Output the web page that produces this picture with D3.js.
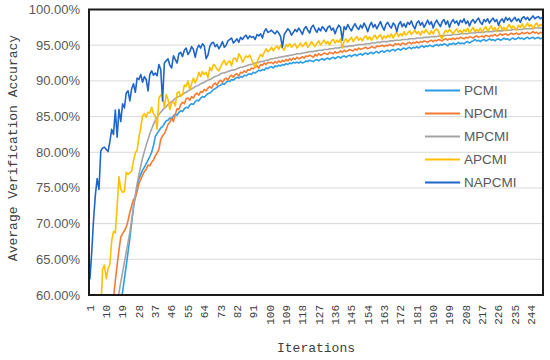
<!DOCTYPE html>
<html>
<head>
<meta charset="utf-8">
<script src="https://cdn.jsdelivr.net/npm/d3@7"></script>
<style>
  body { margin: 0; background: #fff; }
  svg { display: block; }
</style>
</head>
<body>
<svg id="chart"></svg>
<script>
const seriesNames = ["PCMI", "NPCMI", "MPCMI", "APCMI", "NAPCMI"];
const seriesColors = ["#2b9de4", "#f57a32", "#a5a5a5", "#ffc000", "#1f66c9"];
const yTicks = [60, 65, 70, 75, 80, 85, 90, 95, 100];

const pcmi = [
  33.0, 35.0, 37.0, 39.0, 41.0, 43.0, 45.0, 46.8, 48.6, 50.2,
  51.8, 53.2, 54.6, 55.9, 57.0, 58.0, 58.9, 59.6, 60.4, 62.3,
  64.1, 66.0, 68.0, 70.1, 72.3, 73.8, 75.0, 76.3, 76.9, 77.5,
  77.9, 78.4, 78.9, 79.4, 80.0, 80.9, 82.2, 82.6, 83.0, 83.4,
  83.6, 84.0, 84.4, 84.5, 84.8, 84.7, 85.1, 85.3, 85.2, 85.6,
  85.8, 85.7, 86.1, 86.3, 86.2, 86.6, 86.8, 86.7, 87.1, 87.3,
  87.2, 87.6, 87.8, 87.7, 88.0, 88.2, 88.3, 88.5, 88.8, 88.9,
  89.1, 89.3, 89.4, 89.6, 89.5, 89.8, 90.0, 89.9, 90.2, 90.1,
  90.3, 90.5, 90.4, 90.6, 90.5, 90.8, 90.7, 90.9, 91.0, 90.9,
  91.2, 91.1, 91.3, 91.5, 91.4, 91.6, 91.5, 91.8, 91.7, 91.9,
  92.0, 91.8, 92.1, 92.0, 92.2, 92.1, 92.3, 92.2, 92.4, 92.3,
  92.5, 92.4, 92.6, 92.5, 92.6, 92.5, 92.7, 92.5, 92.6, 92.8,
  92.7, 92.9, 92.8, 92.7, 92.9, 93.0, 92.8, 93.0, 93.1, 92.9,
  93.1, 93.2, 93.0, 93.2, 93.3, 93.1, 93.3, 93.4, 93.2, 93.4,
  93.5, 93.3, 93.5, 93.6, 93.4, 93.6, 93.7, 93.5, 93.7, 93.8,
  93.6, 93.8, 93.9, 93.7, 93.9, 94.0, 93.8, 94.0, 94.1, 93.9,
  94.1, 94.2, 94.0, 94.2, 94.3, 94.1, 94.3, 94.4, 94.2, 94.4,
  94.5, 94.3, 94.5, 94.6, 94.4, 94.6, 94.7, 94.5, 94.7, 94.6,
  94.8, 94.6, 94.8, 94.9, 94.7, 94.9, 94.8, 95.0, 94.9, 94.8,
  95.0, 95.1, 94.9, 95.1, 95.0, 95.2, 95.1, 94.9, 95.2, 95.1,
  95.3, 95.1, 95.2, 95.4, 95.2, 95.3, 95.2, 95.4, 95.5, 95.3,
  95.5, 95.6, 95.8, 95.6, 95.7, 95.5, 95.7, 95.8, 95.6, 95.7,
  95.9, 95.7, 95.8, 95.6, 95.8, 95.9, 95.7, 95.8, 96.0, 95.8,
  95.9, 95.7, 95.9, 96.0, 95.8, 95.9, 96.1, 95.9, 96.0, 95.8,
  96.0, 96.1, 95.9, 96.0, 96.1, 95.9, 96.0, 96.1, 95.9, 96.0
];

const npcmi = [
  38.0, 40.0, 42.0, 44.0, 46.0, 47.5, 49.0, 50.5, 52.0, 53.5,
  55.0, 56.5, 58.0, 59.6, 62.0, 64.2, 66.3, 68.1, 68.6, 69.0,
  69.5, 70.4, 71.6, 72.5, 73.4, 73.6, 74.5, 75.6, 76.2, 76.8,
  77.3, 77.6, 78.2, 78.1, 78.6, 78.9, 79.5, 79.9, 80.4, 81.8,
  82.3, 82.6, 83.2, 83.9, 84.2, 84.8, 84.3, 85.3, 86.1, 86.0,
  86.7, 87.0, 86.8, 87.5, 87.6, 87.3, 87.8, 87.6, 88.1, 88.3,
  88.0, 88.5, 88.4, 88.8, 88.6, 89.0, 89.2, 89.0, 89.5, 89.7,
  89.4, 89.9, 90.1, 89.8, 90.2, 90.4, 90.1, 90.6, 90.8, 90.5,
  90.9, 91.0, 90.7, 91.2, 91.1, 91.4, 91.2, 91.6, 91.5, 91.8,
  91.7, 91.9, 92.1, 91.8, 92.3, 92.2, 92.5, 92.3, 92.6, 92.5,
  92.6, 92.4, 92.7, 92.5, 92.8, 92.6, 92.9, 92.7, 93.0, 92.8,
  93.1, 92.9, 93.2, 93.0, 93.3, 93.1, 93.2, 93.4, 93.2, 93.5,
  93.4, 93.6, 93.5, 93.3, 93.7, 93.5, 93.8, 93.6, 93.7, 93.9,
  93.8, 93.7, 94.0, 93.9, 93.8, 94.1, 93.9, 94.0, 94.2, 94.0,
  94.3, 94.1, 94.2, 94.4, 94.3, 94.2, 94.5, 94.3, 94.6, 94.4,
  94.5, 94.6, 94.7, 94.5, 94.6, 94.8, 94.7, 94.6, 94.9, 94.8,
  94.9, 95.0, 94.8, 95.0, 94.9, 95.1, 95.0, 94.9, 95.2, 95.1,
  95.2, 95.0, 95.3, 95.2, 95.1, 95.3, 95.4, 95.2, 95.4, 95.3,
  95.5, 95.3, 95.5, 95.4, 95.6, 95.5, 95.4, 95.6, 95.7, 95.5,
  95.7, 95.6, 95.8, 95.7, 95.6, 95.8, 95.9, 95.7, 95.9, 95.8,
  96.0, 95.8, 96.0, 95.9, 96.1, 96.0, 95.9, 96.1, 96.0, 96.2,
  96.1, 96.0, 96.2, 96.3, 96.1, 96.2, 96.3, 96.1, 96.4, 96.3,
  96.2, 96.4, 96.3, 96.5, 96.3, 96.4, 96.6, 96.4, 96.5, 96.6,
  96.4, 96.5, 96.7, 96.5, 96.6, 96.7, 96.5, 96.6, 96.8, 96.6,
  96.7, 96.8, 96.6, 96.7, 96.9, 96.7, 96.8, 96.6, 96.8, 96.7
];

const mpcmi = [
  37.9, 39.3, 40.7, 42.1, 43.5, 44.9, 46.3, 47.7, 49.1, 50.5,
  51.9, 53.3, 54.7, 56.1, 57.5, 58.9, 60.3, 61.8, 63.2, 64.6,
  66.0, 67.4, 68.8, 70.5, 72.3, 74.0, 75.6, 76.9, 78.1, 79.2,
  80.1, 81.0, 81.8, 82.6, 83.3, 83.9, 84.5, 84.9, 85.3, 85.6,
  85.9, 86.2, 86.4, 86.7, 86.9, 87.1, 87.3, 87.5, 87.7, 87.8,
  88.0, 88.1, 88.3, 88.4, 88.6, 88.7, 88.9, 89.0, 89.2, 89.3,
  89.4, 89.6, 89.7, 89.8, 90.0, 90.1, 90.2, 90.3, 90.5, 90.6,
  90.7, 90.8, 91.0, 91.1, 91.1, 91.2, 91.3, 91.4, 91.5, 91.5,
  91.6, 91.7, 91.8, 91.9, 91.9, 92.0, 92.1, 92.2, 92.3, 92.3,
  92.4, 92.5, 92.5, 92.6, 92.7, 92.7, 92.8, 92.9, 92.9, 93.0,
  93.1, 93.1, 93.2, 93.2, 93.3, 93.3, 93.4, 93.4, 93.5, 93.5,
  93.6, 93.6, 93.7, 93.7, 93.8, 93.8, 93.8, 93.9, 93.9, 94.0,
  94.0, 94.1, 94.1, 94.1, 94.2, 94.2, 94.3, 94.3, 94.3, 94.4,
  94.4, 94.4, 94.5, 94.5, 94.5, 94.6, 94.6, 94.6, 94.7, 94.7,
  94.8, 94.8, 94.8, 94.9, 94.9, 94.9, 95.0, 95.0, 95.1, 95.1,
  95.1, 95.1, 95.2, 95.2, 95.2, 95.3, 95.3, 95.3, 95.4, 95.4,
  95.4, 95.5, 95.5, 95.5, 95.5, 95.6, 95.6, 95.6, 95.7, 95.7,
  95.7, 95.7, 95.8, 95.8, 95.8, 95.8, 95.9, 95.9, 95.9, 95.9,
  96.0, 96.0, 96.0, 96.0, 96.1, 96.1, 96.1, 96.1, 96.2, 96.2,
  96.2, 96.2, 96.3, 96.3, 96.3, 96.3, 96.4, 96.4, 96.4, 96.4,
  96.5, 96.5, 96.5, 96.5, 96.6, 96.6, 96.6, 96.6, 96.6, 96.7,
  96.7, 96.7, 96.7, 96.8, 96.8, 96.8, 96.8, 96.8, 96.9, 96.9,
  96.9, 96.9, 96.9, 97.0, 97.0, 97.0, 97.0, 97.0, 97.1, 97.1,
  97.1, 97.1, 97.1, 97.2, 97.2, 97.2, 97.2, 97.2, 97.2, 97.3,
  97.3, 97.3, 97.3, 97.3, 97.3, 97.4, 97.4, 97.4, 97.4, 97.4
];

const apcmi = [
  48.5, 50.8, 52.6, 54.1, 55.4, 56.6, 58.0, 63.6, 64.2, 62.3,
  63.7, 64.3, 67.6, 68.9, 68.7, 72.4, 76.6, 74.8, 74.4, 74.5,
  77.2, 76.9, 77.1, 77.4, 78.8, 79.9, 80.3, 82.1, 83.5, 85.1,
  85.4, 84.9, 85.6, 85.5, 86.3, 85.4, 85.1, 83.2, 87.6, 88.0,
  87.9, 86.3, 88.1, 87.4, 86.0, 86.9, 87.1, 86.5, 88.3, 88.5,
  87.8, 88.1, 89.4, 89.2, 90.0, 88.8, 89.6, 90.4, 89.7, 90.3,
  91.2, 90.6, 91.3, 90.9, 91.2, 90.4, 91.9, 91.4, 92.3, 92.1,
  91.6, 91.4, 92.0, 92.5, 92.9, 92.2, 92.6, 92.8, 92.1, 93.1,
  93.2, 92.7, 93.8, 93.4, 92.6, 93.1, 93.5, 93.3, 93.6, 93.0,
  92.4, 91.9, 92.6, 93.2, 93.7, 93.4, 94.0, 94.5, 94.1, 94.3,
  94.7, 94.2, 94.6, 94.9, 94.4, 95.0, 94.6, 94.3, 95.1, 94.8,
  95.2, 94.7, 95.0, 95.2, 94.6, 94.9, 95.3, 94.8, 95.1, 95.4,
  94.7, 95.0, 95.5, 95.1, 94.8, 95.3, 95.6, 95.0, 95.4, 95.7,
  95.2, 95.5, 95.0, 95.6, 95.8, 95.3, 95.7, 95.4, 95.9, 94.6,
  95.6, 95.9, 95.4, 95.8, 96.1, 95.5, 95.9, 96.2, 95.7, 96.0,
  95.6, 96.1, 96.3, 95.8, 96.2, 95.7, 96.1, 96.4, 95.9, 96.2,
  96.5, 95.8, 96.3, 96.0, 96.4, 96.1, 96.6, 96.0, 96.5, 96.8,
  96.2, 96.6, 96.3, 96.9, 96.4, 96.7, 97.0, 96.5, 96.8, 97.1,
  96.6, 96.9, 96.4, 97.0, 96.7, 97.2, 96.8, 96.5, 97.0, 96.6,
  97.1, 97.3, 96.9, 96.2, 95.9, 96.7, 97.1, 96.8, 97.2, 96.9,
  96.6, 97.0, 97.3, 96.8, 97.1, 96.7, 97.2, 96.9, 97.4, 96.8,
  97.1, 97.5, 96.9, 97.2, 97.0, 97.4, 96.8, 97.3, 97.6, 97.0,
  97.3, 97.7, 97.1, 97.5, 96.9, 97.4, 97.8, 97.2, 97.5, 97.0,
  97.6, 97.9, 97.3, 97.7, 97.4, 97.1, 97.8, 97.5, 98.0, 97.4,
  97.7, 98.1, 97.6, 97.9, 97.3, 97.8, 98.1, 97.6, 97.9, 97.7
];

const napcmi = [
  62.2, 66.0, 70.5, 74.0, 76.3, 74.8, 80.2, 80.6, 80.7, 80.4,
  80.1, 81.5, 83.2, 82.5, 85.9, 82.1, 86.0, 84.3, 86.8, 86.2,
  88.3, 88.6, 87.2, 88.9, 89.6, 88.4, 90.4, 90.2, 90.9, 89.8,
  90.6, 90.2, 88.6, 90.9, 91.4, 90.8, 91.1, 90.7, 92.3, 91.6,
  87.2, 92.5, 92.8, 93.1, 92.2, 91.8, 93.5, 93.0, 92.5, 93.8,
  94.0, 93.4, 94.3, 94.6, 93.7, 94.1, 94.8, 94.4, 93.3, 94.5,
  95.0, 94.6, 95.2, 94.9, 93.1, 93.6, 94.8, 95.3, 95.4, 94.8,
  95.1, 94.5, 94.9, 95.5, 94.7, 95.0, 95.6, 95.8, 96.0, 95.3,
  95.6, 95.9, 95.4, 96.1, 95.8, 96.2, 96.4, 95.9, 96.3, 96.1,
  96.2, 95.8, 96.5, 96.3, 96.6, 96.0, 96.9, 97.3, 96.8, 96.9,
  97.1, 96.8, 96.6, 97.0, 96.7, 96.2, 94.7, 96.5, 96.9, 97.3,
  97.0, 96.4, 96.8, 97.2, 96.9, 97.4, 97.0, 96.5, 97.3, 97.6,
  97.1, 96.7, 97.5, 97.8, 97.2, 96.8, 97.4, 97.0, 97.6, 97.3,
  96.9, 97.5, 97.7, 97.1, 97.4, 96.6, 97.3, 97.8, 97.5, 95.7,
  97.6, 97.2, 97.9, 97.4, 97.0, 97.6, 98.0, 97.5, 97.2, 97.8,
  97.4, 98.1, 97.6, 96.9, 97.7, 98.2, 97.5, 97.9, 97.3, 97.8,
  98.3, 97.6, 97.1, 97.9, 98.2, 97.7, 97.4, 98.1, 97.8, 96.9,
  97.9, 98.3, 97.6, 98.0, 97.5, 98.2, 97.9, 98.4, 97.7, 97.3,
  98.1, 98.4, 97.8, 98.2, 97.5, 98.0, 98.5, 97.9, 98.3, 97.4,
  98.1, 98.5, 98.0, 97.6, 98.3, 98.6, 97.9, 98.4, 97.5, 98.2,
  98.6, 98.1, 98.4, 97.8, 98.5, 98.2, 98.7, 98.0, 98.4, 97.7,
  98.3, 98.6, 98.1, 98.5, 98.8, 98.2, 97.9, 98.6, 98.3, 98.7,
  98.1, 98.5, 98.8, 98.3, 98.6, 97.8, 98.4, 98.7, 98.2, 98.9,
  98.5, 98.8, 98.3, 98.6, 98.9, 98.4, 98.7, 98.2, 98.8, 99.0,
  98.6, 98.9, 98.5, 98.8, 99.1, 98.7, 98.9, 99.0, 98.7, 98.9
];

const allSeries = [pcmi, npcmi, mpcmi, apcmi, napcmi];
const iterations = d3.range(1, pcmi.length + 1);
const xTickLabels = iterations.filter(i => (i - 1) % 9 === 0);

const width = 550,
      height = 360,
      margin = {top: 9.5, right: 7, bottom: 65, left: 89},
      svg = d3.select("#chart")
              .attr("width", width)
              .attr("height", height);

const x = d3.scaleBand()
    .domain(iterations)
    .range([margin.left, width - margin.right]);

const y = d3.scaleLinear()
    .domain([60, 100])
    .range([height - margin.bottom, margin.top]);

const cx = (i) => x(i) + x.bandwidth() / 2;

// grid
svg.append("g")
    .selectAll("line")
    .data(yTicks.slice(1, -1))
    .enter().append("line")
      .attr("x1", margin.left)
      .attr("x2", width - margin.right)
      .attr("y1", (d) => y(d))
      .attr("y2", (d) => y(d))
      .attr("stroke", "#d9d9d9")
      .attr("stroke-width", 1);

svg.append("clipPath")
    .attr("id", "plotClip")
  .append("rect")
    .attr("x", margin.left)
    .attr("y", margin.top)
    .attr("width", width - margin.left - margin.right)
    .attr("height", height - margin.top - margin.bottom);

const line = d3.line()
    .x((d, i) => cx(iterations[i]))
    .y((d) => y(d));

svg.append("g")
    .attr("clip-path", "url(#plotClip)")
    .selectAll("path")
    .data(allSeries)
    .enter().append("path")
      .attr("d", line)
      .attr("fill", "none")
      .attr("stroke", (d, i) => seriesColors[i])
      .attr("stroke-width", 1.6)
      .attr("stroke-linejoin", "round");

// frame
svg.append("rect")
    .attr("x", margin.left)
    .attr("y", margin.top)
    .attr("width", width - margin.left - margin.right)
    .attr("height", height - margin.top - margin.bottom)
    .attr("fill", "none")
    .attr("stroke", "#1a1a1a")
    .attr("stroke-width", 2);

// y tick labels
svg.append("g")
    .selectAll("text")
    .data(yTicks)
    .enter().append("text")
      .attr("x", 80)
      .attr("y", (d) => y(d))
      .attr("dy", "0.35em")
      .attr("text-anchor", "end")
      .style("font-family", "'Liberation Sans', Arial, sans-serif")
      .style("font-size", "13px")
      .attr("fill", "#595959")
      .text((d) => d3.format(".2f")(d) + "%");

// x tick labels
svg.append("g")
    .selectAll("text")
    .data(xTickLabels)
    .enter().append("text")
      .attr("transform", (d) => `translate(${[cx(d), height - margin.bottom + 10]}) rotate(-90)`)
      .attr("dy", "0.35em")
      .attr("text-anchor", "end")
      .style("font-family", "'Liberation Mono', monospace")
      .style("font-size", "11px")
      .attr("fill", "#404040")
      .text((d) => d);

// axis titles
svg.append("text")
    .attr("x", (margin.left + width - margin.right) / 2)
    .attr("y", 352)
    .attr("text-anchor", "middle")
    .style("font-family", "'Liberation Mono', monospace")
    .style("font-size", "13px")
    .attr("fill", "#404040")
    .text("Iterations");

svg.append("text")
    .attr("transform", `translate(${[17, 148]}) rotate(-90)`)
    .attr("text-anchor", "middle")
    .style("font-family", "'Liberation Mono', monospace")
    .style("font-size", "13px")
    .attr("fill", "#404040")
    .text("Average Verification Accuracy");

// legend
const legend = svg.append("g")
    .selectAll("g")
    .data(seriesNames)
    .enter().append("g")
      .attr("transform", (d, i) => `translate(${[425, 90.5 + i * 23]})`);

legend.append("line")
    .attr("x1", 0)
    .attr("x2", 35)
    .attr("stroke", (d, i) => seriesColors[i])
    .attr("stroke-width", 2);

legend.append("text")
    .attr("x", 39)
    .attr("dy", "0.35em")
    .style("font-family", "'Liberation Sans', Arial, sans-serif")
    .style("font-size", "13.5px")
    .attr("fill", "#595959")
    .text((d) => d);
</script>
</body>
</html>
